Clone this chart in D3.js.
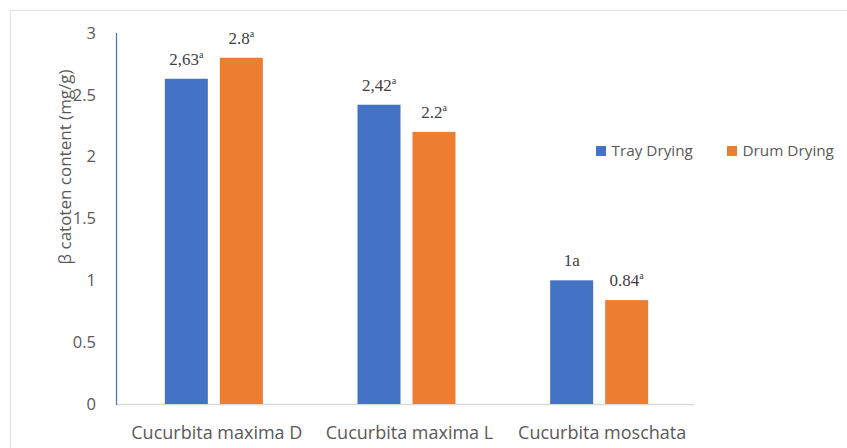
<!DOCTYPE html>
<html><head><meta charset="utf-8">
<script src="https://cdn.jsdelivr.net/npm/d3@7"></script>
<style>body{margin:0;background:#fff}svg{display:block}</style>
</head><body><svg id="c" width="847" height="448"></svg>
<script>
const categories = ["Cucurbita maxima D", "Cucurbita maxima L", "Cucurbita moschata"];
const seriesNames = ["Tray Drying", "Drum Drying"];
const trayValues = [2.63, 2.42, 1.0];
const drumValues = [2.8, 2.2, 0.84];
const trayLabels = [["2,63", "a"], ["2,42", "a"], ["1a", ""]];
const drumLabels = [["2.8", "a"], ["2.2", "a"], ["0.84", "a"]];
const yTicks = [0, 0.5, 1, 1.5, 2, 2.5, 3];
const colors = ["#4472C4", "#ED7D31"];

const sans = "Open Sans, Calibri, sans-serif";
const svg = d3.select("#c");
svg.append("rect").attr("x",10.5).attr("y",10.5).attr("width",900).attr("height",500)
  .attr("fill","none").attr("stroke","#e3e3e3");

const m = {l:116, r:694, t:33, b:404};
const x0 = d3.scaleBand().domain(categories).range([m.l + 1.5, m.r + 1.5]).paddingInner(0).paddingOuter(0);
const y = d3.scaleLinear().domain([0,3]).range([m.b, m.t]);
const x1 = d3.scaleBand().domain(seriesNames).range([0, 98]).paddingInner(0.218);
const offset = (x0.bandwidth() - 98)/2;

// y tick labels
const yAxis = d3.axisLeft(y).tickValues(yTicks).tickSize(0).tickPadding(20).tickFormat(d3.format(""));
const ga = svg.append("g").attr("transform",`translate(${m.l},0)`).call(yAxis);
ga.select(".domain").remove();
ga.selectAll("text").attr("font-family",sans).attr("font-size",16.5).attr("fill","#595959");

// baseline
svg.append("line").attr("x1",m.l).attr("x2",m.r).attr("y1",m.b+0.5).attr("y2",m.b+0.5)
  .attr("stroke","#d9d9d9").attr("stroke-width",1.5);

const series = [trayValues, drumValues];
const labels = [trayLabels, drumLabels];
series.forEach((vals, si) => {
  const g = svg.append("g");
  g.selectAll("rect").data(vals).join("rect")
    .attr("x",(d,i)=>x0(categories[i]) + offset + x1(seriesNames[si]))
    .attr("y",d=>y(d)).attr("width",x1.bandwidth()).attr("height",d=>y(0)-y(d))
    .attr("fill",colors[si]);
  const t = g.selectAll("text").data(vals).join("text")
    .attr("x",(d,i)=>x0(categories[i]) + offset + x1(seriesNames[si]) + x1.bandwidth()/2)
    .attr("y",d=>y(d)-14)
    .attr("text-anchor","middle")
    .attr("font-family","Liberation Serif, Times New Roman, serif")
    .attr("font-size",17).attr("fill","#404040");
  t.append("tspan").text((d,i)=>labels[si][i][0]);
  t.append("tspan").attr("font-size",10).attr("dy",-7).text((d,i)=>labels[si][i][1]);
});

// y axis line (blue)
svg.append("line").attr("x1",m.l+0.5).attr("x2",m.l+0.5).attr("y1",m.t).attr("y2",m.b+1)
  .attr("stroke","#4472C4").attr("stroke-width",1.2);

// category labels
svg.append("g").selectAll("text").data(categories).join("text")
  .attr("x",d=>x0(d)+x0.bandwidth()/2+3).attr("y",439)
  .attr("text-anchor","middle").attr("font-family",sans)
  .attr("font-size",18).attr("fill","#595959").text(d=>d);

// y title
svg.append("text").attr("transform","translate(71,167) rotate(-90)")
  .attr("text-anchor","middle").attr("font-family",sans)
  .attr("font-size",17).attr("fill","#595959").text("β catoten content (mg/g)");

// legend
const legX = [596, 727];
seriesNames.forEach((s,i)=>{
  svg.append("rect").attr("x",legX[i]).attr("y",146).attr("width",10).attr("height",10).attr("fill",colors[i]);
  svg.append("text").attr("x",legX[i]+15.5).attr("y",156).attr("font-family",sans)
    .attr("font-size",15.3).attr("fill","#595959").text(s);
});
</script></body></html>
